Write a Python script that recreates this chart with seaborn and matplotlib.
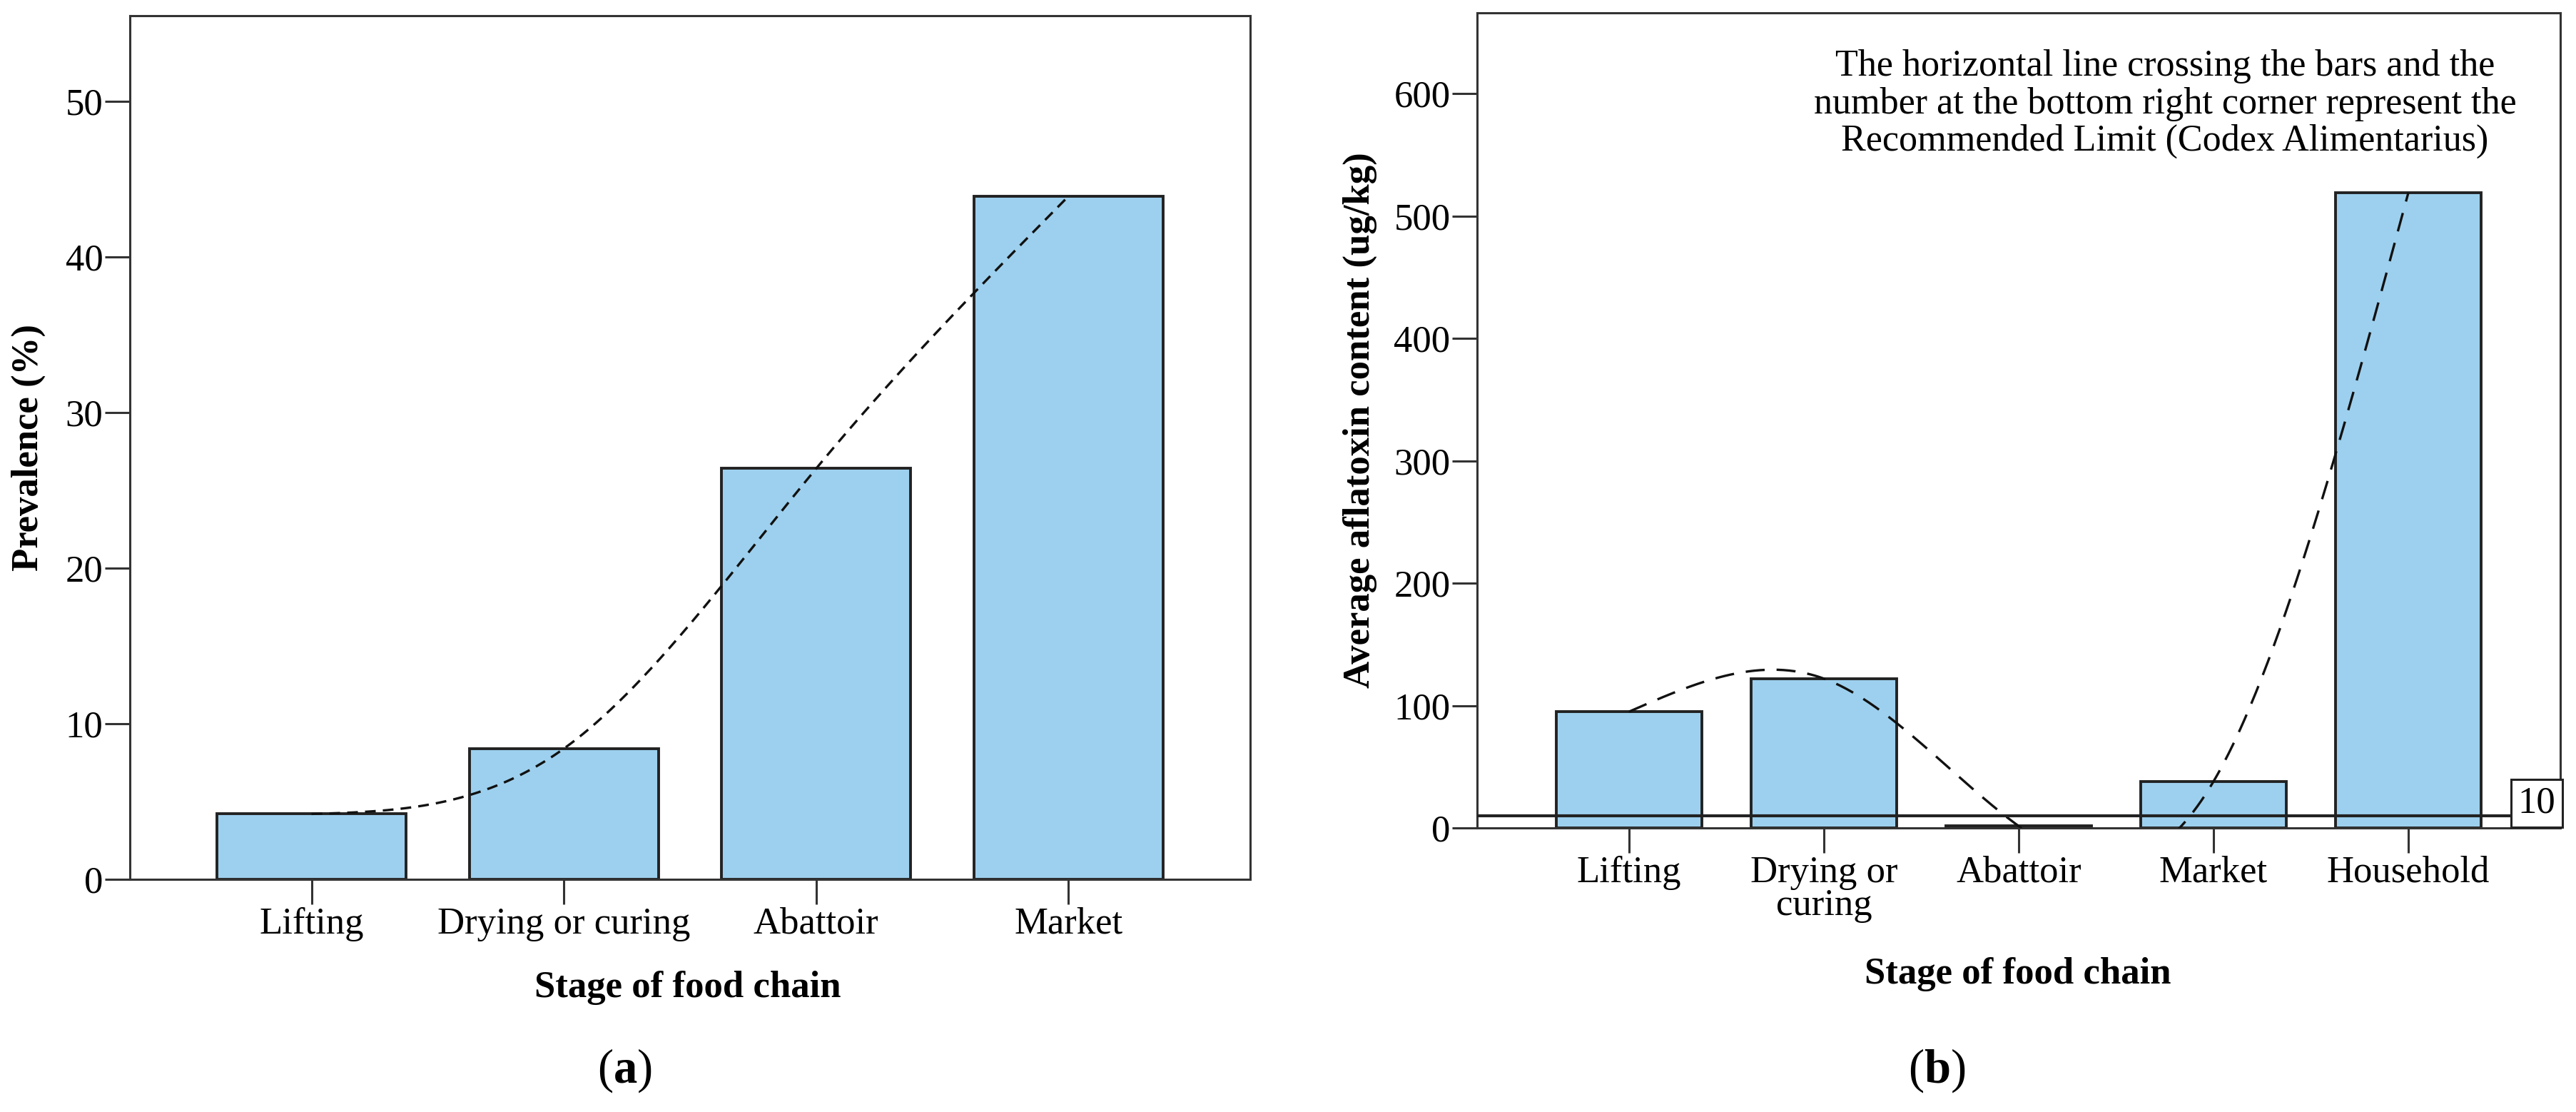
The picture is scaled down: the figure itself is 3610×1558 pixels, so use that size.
import numpy as np
import matplotlib
matplotlib.use("Agg")
import matplotlib.pyplot as plt
import matplotlib.transforms as mtransforms
import seaborn as sns

# ---------------- data ----------------
stages_a = ["Lifting", "Drying or curing", "Abattoir", "Market"]
prevalence = [4.2, 8.4, 26.4, 43.9]

stages_b = ["Lifting", "Drying or\ncuring", "Abattoir", "Market", "Household"]
aflatoxin = [95, 122, 1.5, 38, 519]
limit_value = 10

yticks_a = [0, 10, 20, 30, 40, 50]
yticks_b = [0, 100, 200, 300, 400, 500, 600]

note_text = ("The horizontal line crossing the bars and the\n"
             "number at the bottom right corner represent the\n"
             "Recommended Limit (Codex Alimentarius)")

# ---------------- style ----------------
sns.set_theme(style="white")
plt.rcParams["font.family"] = ["Liberation Serif", "DejaVu Serif"]
plt.rcParams["mathtext.fontset"] = "custom"
plt.rcParams["mathtext.rm"] = "Liberation Serif"
plt.rcParams["mathtext.bf"] = "Liberation Serif:bold"
plt.rcParams["text.color"] = "black"
plt.rcParams["axes.labelcolor"] = "black"
plt.rcParams["xtick.color"] = "#222222"
plt.rcParams["ytick.color"] = "#222222"
plt.rcParams["xtick.labelcolor"] = "black"
plt.rcParams["ytick.labelcolor"] = "black"

BAR = "#9dd0ee"
EDGE = "#222222"
SPINE = "#333333"
FS = 38


def natural_spline(y, n=400):
    """Natural cubic spline through equally spaced points (SPSS 'spline' interpolation line)."""
    y = np.asarray(y, dtype=float)
    k = len(y)
    A = np.zeros((k, k))
    r = np.zeros(k)
    A[0, 0] = 1
    A[-1, -1] = 1
    for i in range(1, k - 1):
        A[i, i - 1], A[i, i], A[i, i + 1] = 1, 4, 1
        r[i] = 6 * (y[i - 1] - 2 * y[i] + y[i + 1])
    M = np.linalg.solve(A, r)
    xs = np.linspace(0, k - 1, n)
    seg = np.minimum(np.floor(xs).astype(int), k - 2)
    t = xs - seg
    ys = ((1 - t) * y[seg] + t * y[seg + 1]
          + ((1 - t) ** 3 - (1 - t)) * M[seg] / 6
          + (t ** 3 - t) * M[seg + 1] / 6)
    return xs, ys


def style_axes(ax):
    for s in ax.spines.values():
        s.set_visible(True)
        s.set_color(SPINE)
        s.set_linewidth(2.2)
    ax.tick_params(axis="y", which="both", direction="out", left=True, right=False,
                   length=25, width=2.2, pad=2, labelsize=FS, color=SPINE)
    ax.tick_params(axis="x", which="both", direction="out", bottom=True, top=False,
                   length=25, width=2.2, pad=3, labelsize=FS, color=SPINE)
    ax.grid(False)


W, H = 3610, 1558
fig = plt.figure(figsize=(W / 100, H / 100), dpi=100)
fig.patch.set_facecolor("white")

# ---------------- panel (a) ----------------
ax1 = fig.add_axes([182 / W, 1 - 1232 / H, (1752 - 182) / W, (1232 - 22) / H])
sns.barplot(x=stages_a, y=prevalence, color=BAR, saturation=1, width=0.75,
            edgecolor=EDGE, linewidth=2.8, ax=ax1)
xs, ys = natural_spline(prevalence)
ax1.plot(xs, ys, color="#111111", lw=2.4, dashes=(4.5, 3.0), zorder=5)
ax1.set_xlim(-0.72, 3.72)
ax1.set_ylim(0, 55.5)
ax1.set_yticks(yticks_a)
ax1.set_yticklabels([str(v) for v in yticks_a])
style_axes(ax1)
ax1.set_ylabel("Prevalence (%)", fontsize=FS, fontweight="bold")
ax1.set_xlabel("Stage of food chain", fontsize=FS, fontweight="bold")
ax1.yaxis.label.set_va("center")
ax1.xaxis.label.set_va("center")
ax1.yaxis.set_label_coords(-0.0904, 0.5)
ax1.xaxis.set_label_coords(0.498, -0.126)

# ---------------- panel (b) ----------------
ax2 = fig.add_axes([2070 / W, 1 - 1160 / H, (3588 - 2070) / W, (1160 - 18) / H])
sns.barplot(x=stages_b, y=aflatoxin, color=BAR, saturation=1, width=0.75,
            edgecolor=EDGE, linewidth=2.8, ax=ax2)
xs, ys = natural_spline(aflatoxin)
ax2.plot(xs, ys, color="#111111", lw=2.4, dashes=(8.0, 5.0), zorder=5)
ax2.axhline(limit_value, color="#222222", lw=3.0, zorder=6)
ax2.set_xlim(-0.78, 4.78)
ax2.set_ylim(0, 666)
ax2.set_yticks(yticks_b)
ax2.set_yticklabels([str(v) for v in yticks_b])
style_axes(ax2)
for t in ax2.get_xticklabels():
    t.set_linespacing(0.95)
ax2.set_ylabel("Average aflatoxin content (ug/kg)", fontsize=FS, fontweight="bold")
ax2.set_xlabel("Stage of food chain", fontsize=FS, fontweight="bold")
ax2.yaxis.label.set_va("center")
ax2.xaxis.label.set_va("center")
ax2.yaxis.set_label_coords(-0.108, 0.5)
ax2.xaxis.set_label_coords(0.499, -0.1795)

trans = mtransforms.blended_transform_factory(ax2.transAxes, ax2.transData)
ax2.text(0.9955, 6, str(limit_value), transform=trans, ha="right", va="bottom",
         fontsize=FS, zorder=10,
         bbox=dict(boxstyle="square,pad=0.18", facecolor="white",
                   edgecolor="#222222", linewidth=2.2))

ax2.text(0.635, 0.888, note_text, transform=ax2.transAxes, ha="center",
         va="center", multialignment="center", fontsize=37.5, linespacing=1.12)

# ---------------- panel letters ----------------
fig.text(875 / W, 1 - 1500 / H, r"($\mathbf{a}$)", ha="center", va="center", fontsize=48)
fig.text(2714 / W, 1 - 1500 / H, r"($\mathbf{b}$)", ha="center", va="center", fontsize=48)

fig.savefig("out.png", dpi=100, facecolor="white")
